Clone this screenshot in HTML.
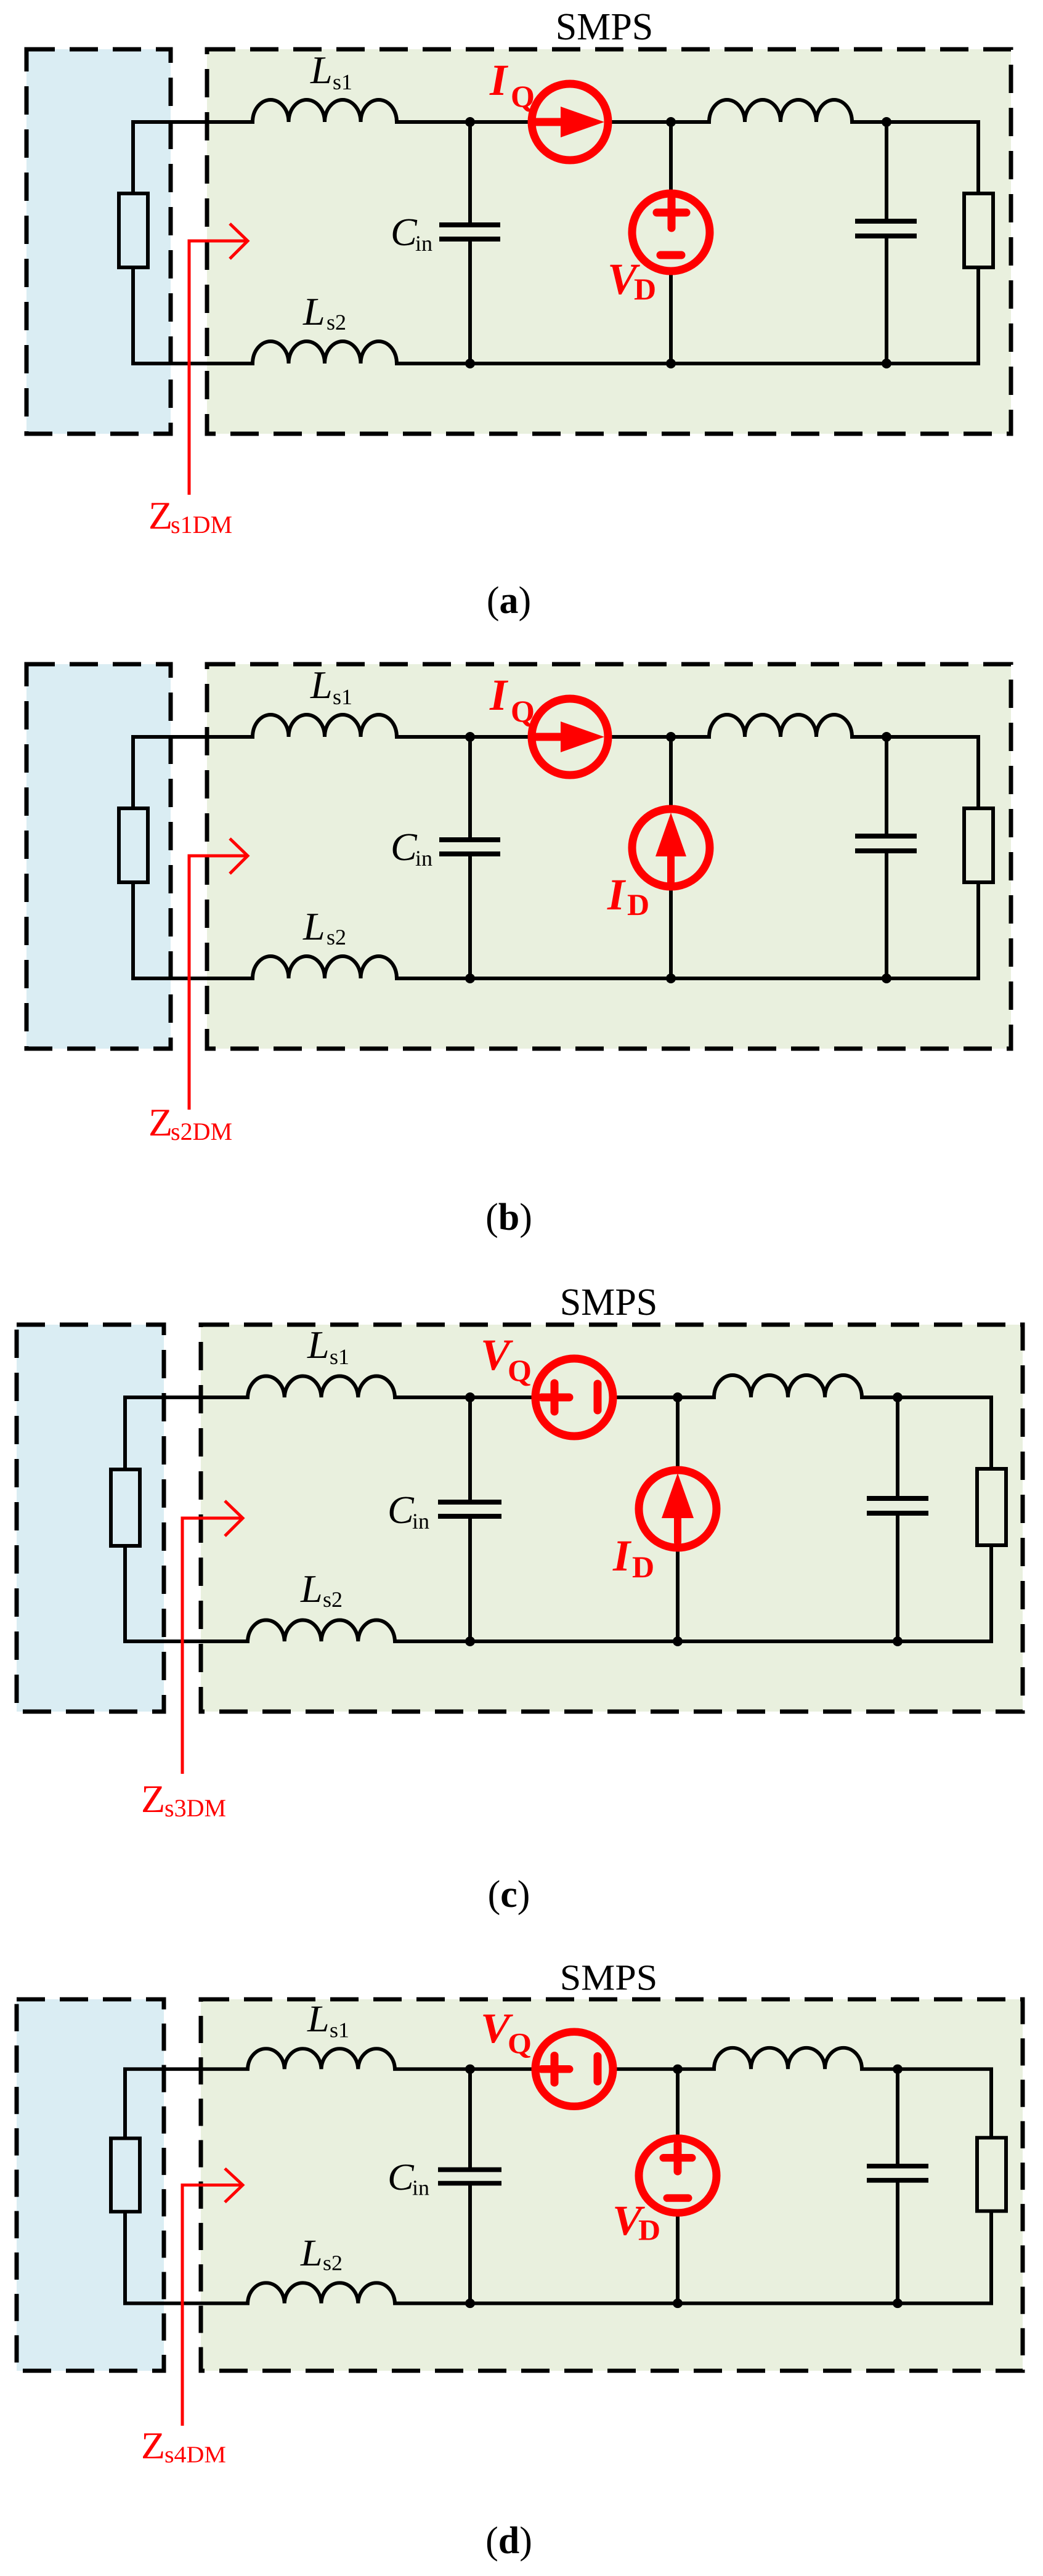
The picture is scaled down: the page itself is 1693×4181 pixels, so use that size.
<!DOCTYPE html>
<html><head><meta charset="utf-8"><style>
html,body{margin:0;padding:0;background:#fff;}
svg{display:block;}
text{font-family:"Liberation Serif",serif;}
.w{fill:none;stroke:#000;stroke-width:6;}
.p{fill:none;stroke:#000;stroke-width:8;}
.dash{stroke:#000;stroke-width:7;stroke-dasharray:46 24;}
.r{fill:none;stroke:#f00;stroke-width:13;}
.rl{fill:none;stroke:#f00;stroke-width:13;stroke-linecap:round;}
.z{fill:none;stroke:#f00;stroke-width:5;}
.it{font-style:italic;}
.lab{font-size:64px;}
.sub{font-size:36px;}
.rI{font-size:72px;font-weight:bold;font-style:italic;fill:#f00;}
.rS{font-size:50px;font-weight:bold;fill:#f00;}
.zZ{font-size:64px;fill:#f00;}
.zS{font-size:40px;fill:#f00;}
.cap{font-size:62px;}
</style></head><body>
<svg width="1693" height="4181" viewBox="0 0 1693 4181" xmlns="http://www.w3.org/2000/svg">
<rect width="1693" height="4181" fill="#fff"/>

<!-- ===== Panel A ===== -->
<g id="pa">
<rect x="43" y="80" width="234" height="624" fill="#daedf3" class="dash"/>
<rect x="336" y="80" width="1305" height="624" fill="#e9f0de" class="dash"/>
<path class="w" d="M216 314 V198 H410 A29.25 36 0 0 1 468.5 198 A29.25 36 0 0 1 527 198 A29.25 36 0 0 1 585.5 198 A29.25 36 0 0 1 644 198 H863 M987 198 H1151 A29 36 0 0 1 1209 198 A29 36 0 0 1 1267 198 A29 36 0 0 1 1325 198 A29 36 0 0 1 1383 198 H1588 V314"/>
<path class="w" d="M216 434 V590 H410 A29.25 36 0 0 1 468.5 590 A29.25 36 0 0 1 527 590 A29.25 36 0 0 1 585.5 590 A29.25 36 0 0 1 644 590 H1588 V434"/>
<rect x="193" y="314" width="47" height="120" class="w"/>
<rect x="1565" y="314" width="47" height="120" class="w"/>
<path class="w" d="M763 198 V365 M763 388 V590 M1439 198 V359 M1439 383 V590"/>
<path class="p" d="M713 365 H812 M713 388 H812 M1388 359 H1488 M1388 383 H1488"/>
<g fill="#000"><circle cx="763" cy="198" r="8"/><circle cx="1089" cy="198" r="8"/><circle cx="1439" cy="198" r="8"/><circle cx="763" cy="590" r="8"/><circle cx="1089" cy="590" r="8"/><circle cx="1439" cy="590" r="8"/></g>
<!-- IQ -->
<circle cx="925" cy="198" r="62" class="r"/>
<path d="M868 198 H915" class="r"/>
<polygon points="910,173 981,198 910,223" fill="#f00"/>
<!-- VD -->
<path class="w" d="M1089 198 V314 M1089 440 V590"/>
<circle cx="1089" cy="377" r="63" class="r"/>
<path class="rl" d="M1066 345 H1114 M1090 322 V370 M1072 414 H1106"/>
<text x="981" y="64" class="cap" text-anchor="middle">SMPS</text>
<text x="504" y="135" class="lab it">L</text><text x="540" y="145" class="sub">s1</text>
<text x="492" y="527" class="lab it">L</text><text x="530" y="535" class="sub">s2</text>
<text x="634" y="398" class="lab it">C</text><text x="674" y="407" class="sub">in</text>
<text x="795" y="154" class="rI">I</text><text x="829" y="173" class="rS">Q</text>
<text x="986" y="477" class="rI">V</text><text x="1029" y="486" class="rS">D</text>
<path class="z" d="M307 803 V391 H402 M373 363 L402 391 L373 420"/>
<text x="241" y="858" class="zZ">Z</text><text x="277" y="865" class="zS">s1DM</text>
<text x="826" y="995" class="cap" text-anchor="middle">(<tspan font-weight="bold">a</tspan>)</text>
</g>

<!-- ===== Panel B ===== -->
<g transform="translate(0,998)">
<rect x="43" y="80" width="234" height="624" fill="#daedf3" class="dash"/>
<rect x="336" y="80" width="1305" height="624" fill="#e9f0de" class="dash"/>
<path class="w" d="M216 314 V198 H410 A29.25 36 0 0 1 468.5 198 A29.25 36 0 0 1 527 198 A29.25 36 0 0 1 585.5 198 A29.25 36 0 0 1 644 198 H863 M987 198 H1151 A29 36 0 0 1 1209 198 A29 36 0 0 1 1267 198 A29 36 0 0 1 1325 198 A29 36 0 0 1 1383 198 H1588 V314"/>
<path class="w" d="M216 434 V590 H410 A29.25 36 0 0 1 468.5 590 A29.25 36 0 0 1 527 590 A29.25 36 0 0 1 585.5 590 A29.25 36 0 0 1 644 590 H1588 V434"/>
<rect x="193" y="314" width="47" height="120" class="w"/>
<rect x="1565" y="314" width="47" height="120" class="w"/>
<path class="w" d="M763 198 V365 M763 388 V590 M1439 198 V359 M1439 383 V590"/>
<path class="p" d="M713 365 H812 M713 388 H812 M1388 359 H1488 M1388 383 H1488"/>
<g fill="#000"><circle cx="763" cy="198" r="8"/><circle cx="1089" cy="198" r="8"/><circle cx="1439" cy="198" r="8"/><circle cx="763" cy="590" r="8"/><circle cx="1089" cy="590" r="8"/><circle cx="1439" cy="590" r="8"/></g>
<circle cx="925" cy="198" r="62" class="r"/>
<path d="M868 198 H915" class="r"/>
<polygon points="910,173 981,198 910,223" fill="#f00"/>
<path class="w" d="M1089 198 V315 M1089 441 V590"/>
<circle cx="1089" cy="378" r="63" class="r"/>
<polygon points="1089,321 1064,392 1114,392" fill="#f00"/>
<path class="rl" d="M1089 390 V434" style="stroke-width:12"/>
<text x="504" y="135" class="lab it">L</text><text x="540" y="145" class="sub">s1</text>
<text x="492" y="527" class="lab it">L</text><text x="530" y="535" class="sub">s2</text>
<text x="634" y="398" class="lab it">C</text><text x="674" y="407" class="sub">in</text>
<text x="795" y="154" class="rI">I</text><text x="829" y="173" class="rS">Q</text>
<text x="986" y="478" class="rI">I</text><text x="1018" y="487" class="rS">D</text>
<path class="z" d="M307 803 V391 H402 M373 363 L402 391 L373 420"/>
<text x="241" y="845" class="zZ">Z</text><text x="277" y="852" class="zS">s2DM</text>
<text x="826" y="998" class="cap" text-anchor="middle">(<tspan font-weight="bold">b</tspan>)</text>
</g>

<!-- ===== Panel C ===== -->
<g>
<rect x="27" y="2150" width="239" height="628" fill="#daedf3" class="dash"/>
<rect x="326" y="2150" width="1334" height="628" fill="#e9f0de" class="dash"/>
<path class="w" d="M203 2385 V2268 H402 A29.9 36 0 0 1 461.75 2268 A29.9 36 0 0 1 521.5 2268 A29.9 36 0 0 1 581.25 2268 A29.9 36 0 0 1 641 2268 H869 M995 2268 H1159 A30 36 0 0 1 1219 2268 A30 36 0 0 1 1279 2268 A30 36 0 0 1 1339 2268 A30 36 0 0 1 1399 2268 H1609 V2384"/>
<path class="w" d="M203 2509 V2664 H402 A29.9 36 0 0 1 461.75 2664 A29.9 36 0 0 1 521.5 2664 A29.9 36 0 0 1 581.25 2664 A29.9 36 0 0 1 641 2664 H1609 V2508"/>
<rect x="180" y="2385" width="47" height="124" class="w"/>
<rect x="1586" y="2384" width="47" height="124" class="w"/>
<path class="w" d="M763 2268 V2438 M763 2461 V2664 M1457 2268 V2432 M1457 2456 V2664"/>
<path class="p" d="M711 2438 H814 M711 2461 H814 M1407 2432 H1507 M1407 2456 H1507"/>
<g fill="#000"><circle cx="763" cy="2268" r="8"/><circle cx="1100" cy="2268" r="8"/><circle cx="1457" cy="2268" r="8"/><circle cx="763" cy="2664" r="8"/><circle cx="1100" cy="2664" r="8"/><circle cx="1457" cy="2664" r="8"/></g>
<circle cx="932" cy="2268" r="63" class="r"/>
<path class="rl" d="M879 2268 H924 M900 2245 V2291 M970 2246 V2289"/>
<path class="w" d="M1100 2268 V2386 M1100 2512 V2664"/>
<circle cx="1100" cy="2449" r="63" class="r"/>
<polygon points="1100,2391 1074,2464 1126,2464" fill="#f00"/>
<path class="rl" d="M1100 2462 V2503" style="stroke-width:12"/>
<text x="988" y="2134" class="cap" text-anchor="middle">SMPS</text>
<text x="499" y="2204" class="lab it">L</text><text x="535" y="2214" class="sub">s1</text>
<text x="488" y="2600" class="lab it">L</text><text x="524" y="2608" class="sub">s2</text>
<text x="629" y="2472" class="lab it">C</text><text x="669" y="2481" class="sub">in</text>
<text x="780" y="2223" class="rI">V</text><text x="824" y="2241" class="rS">Q</text>
<text x="995" y="2549" class="rI">I</text><text x="1026" y="2560" class="rS">D</text>
<path class="z" d="M296 2879 V2464 H394 M365 2436 L394 2464 L365 2493"/>
<text x="229" y="2941" class="zZ">Z</text><text x="267" y="2948" class="zS">s3DM</text>
<text x="826" y="3095" class="cap" text-anchor="middle">(<tspan font-weight="bold">c</tspan>)</text>
</g>

<!-- ===== Panel D ===== -->
<g transform="translate(0,3245) scale(1,0.96) translate(0,-2150)">
<rect x="27" y="2150" width="239" height="628" fill="#daedf3" class="dash"/>
<rect x="326" y="2150" width="1334" height="628" fill="#e9f0de" class="dash"/>
<path class="w" d="M203 2385 V2268 H402 A29.9 36 0 0 1 461.75 2268 A29.9 36 0 0 1 521.5 2268 A29.9 36 0 0 1 581.25 2268 A29.9 36 0 0 1 641 2268 H869 M995 2268 H1159 A30 36 0 0 1 1219 2268 A30 36 0 0 1 1279 2268 A30 36 0 0 1 1339 2268 A30 36 0 0 1 1399 2268 H1609 V2384"/>
<path class="w" d="M203 2509 V2664 H402 A29.9 36 0 0 1 461.75 2664 A29.9 36 0 0 1 521.5 2664 A29.9 36 0 0 1 581.25 2664 A29.9 36 0 0 1 641 2664 H1609 V2508"/>
<rect x="180" y="2385" width="47" height="124" class="w"/>
<rect x="1586" y="2384" width="47" height="124" class="w"/>
<path class="w" d="M763 2268 V2438 M763 2461 V2664 M1457 2268 V2432 M1457 2456 V2664"/>
<path class="p" d="M711 2438 H814 M711 2461 H814 M1407 2432 H1507 M1407 2456 H1507"/>
<g fill="#000"><circle cx="763" cy="2268" r="8"/><circle cx="1100" cy="2268" r="8"/><circle cx="1457" cy="2268" r="8"/><circle cx="763" cy="2664" r="8"/><circle cx="1100" cy="2664" r="8"/><circle cx="1457" cy="2664" r="8"/></g>
<circle cx="932" cy="2268" r="63" class="r"/>
<path class="rl" d="M879 2268 H924 M900 2245 V2291 M970 2246 V2289"/>
<path class="w" d="M1100 2268 V2385 M1100 2511 V2664"/>
<circle cx="1100" cy="2448" r="63" class="r"/>
<path class="rl" d="M1077 2418 H1123 M1100 2395 V2441 M1083 2486 H1117"/>
<text x="988" y="2134" class="cap" text-anchor="middle">SMPS</text>
<text x="499" y="2204" class="lab it">L</text><text x="535" y="2214" class="sub">s1</text>
<text x="488" y="2600" class="lab it">L</text><text x="524" y="2608" class="sub">s2</text>
<text x="629" y="2472" class="lab it">C</text><text x="669" y="2481" class="sub">in</text>
<text x="780" y="2223" class="rI">V</text><text x="824" y="2241" class="rS">Q</text>
<text x="994" y="2548" class="rI">V</text><text x="1036" y="2557" class="rS">D</text>
<path class="z" d="M296 2871 V2464 H394 M365 2436 L394 2464 L365 2493"/>
<text x="229" y="2926" class="zZ">Z</text><text x="267" y="2933" class="zS">s4DM</text>
</g>
<text x="826" y="4144" class="cap" text-anchor="middle">(<tspan font-weight="bold">d</tspan>)</text>
</svg>
</body></html>
